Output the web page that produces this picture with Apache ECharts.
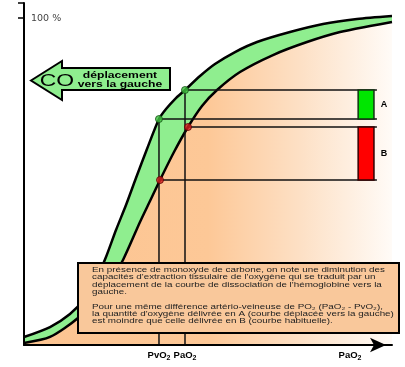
<!DOCTYPE html>
<html><head><meta charset="utf-8">
<script src="https://cdn.jsdelivr.net/npm/echarts@6/dist/echarts.min.js"></script>
<style>html,body{margin:0;padding:0;background:#fff}#c{width:405px;height:367px}</style>
</head><body><div id="c"></div>
<script>
// Curve shifted to the left by CO
const coX = [0, 7.07, 12.5, 16.58, 19.57, 22.28, 25.0, 27.72, 30.43, 33.42, 36.68, 38.59, 41.03, 43.75, 47.83, 51.9, 57.34, 63.32, 72.28, 81.25, 90.49, 100];
const coY = [2.45, 5.5, 9.48, 14.37, 19.88, 26.91, 35.17, 42.81, 51.07, 59.94, 69.11, 72.17, 75.23, 77.98, 82.26, 85.93, 89.6, 92.66, 95.72, 98.17, 99.69, 100.61];
// Usual curve
const normX = [0, 7.07, 14.67, 20.65, 23.91, 26.9, 31.52, 34.24, 36.96, 40.76, 44.57, 48.37, 52.45, 58.7, 67.66, 76.9, 85.87, 94.02, 100];
const normY = [0.61, 2.45, 8.26, 15.6, 20.49, 25.99, 37.61, 44.04, 50.46, 59.02, 66.67, 73.09, 77.98, 83.49, 88.69, 92.66, 95.72, 97.55, 98.78];
// Points at PvO2 / PaO2
const greenDots = [[36.68, 69.11], [43.75, 77.98]];
const redDots = [[36.96, 50.46], [44.57, 66.67]];
const lineEndX = 95.9;
// A / B differences
const diffLabels = ['A', 'B'];
const diffRanges = [[69.11, 77.98], [50.46, 66.67]];
// tick labels
const xTickValues = [36.7, 43.75, 88.6];
const xTickLabels = ['PvO{s|2}', 'PaO{s|2}', 'PaO{s|2}'];
const yTickValues = [100];
const yTickLabels = ['100 %'];

const zip = (xs, ys) => xs.map((x, i) => [x, ys[i]]);
const chart = echarts.init(document.getElementById('c'));

const segSeries = [];
greenDots.forEach(d => segSeries.push([[d[0], 0], [d[0], d[1]]]));
greenDots.concat(redDots).forEach(d => segSeries.push([[d[0], d[1]], [lineEndX, d[1]]]));

const option = {
  animation: false,
  grid: { left: 24, right: 13, top: 3, bottom: 22 },
  xAxis: {
    type: 'value', min: 0, max: 100, z: 10,
    axisLine: { lineStyle: { color: '#000', width: 2 }, symbol: ['none', 'arrow'], symbolSize: [11, 16], symbolOffset: [0, -6] },
    axisTick: { show: false },
    splitLine: { show: false },
    axisLabel: {
      customValues: xTickValues,
      margin: 4,
      formatter: v => xTickLabels[xTickValues.indexOf(v)] || '',
      color: '#000', fontFamily: 'Liberation Sans', fontWeight: 'bold', fontSize: 9.5,
      rich: { s: { fontFamily: 'Liberation Sans', fontWeight: 'bold', fontSize: 7, verticalAlign: 'bottom', padding: [6, 0, 0, 0] } }
    }
  },
  yAxis: {
    type: 'value', min: 0, max: 104.6, z: 10,
    axisLine: { show: true, lineStyle: { color: '#000', width: 2 } },
    axisTick: { show: true, customValues: [100, 104.6], length: 6, lineStyle: { color: '#000', width: 1.5 } },
    splitLine: { show: false },
    axisLabel: {
      customValues: yTickValues, inside: true, margin: 7,
      formatter: v => yTickLabels[yTickValues.indexOf(v)] || '',
      color: '#444', fontFamily: 'DejaVu Sans', fontSize: 9.5
    }
  },
  series: [
    {
      type: 'line', data: zip(coX, coY), symbol: 'none', smooth: 0.25, z: 1,
      lineStyle: { color: '#000', width: 2.5 },
      areaStyle: { color: '#8fee8f', opacity: 1 }
    },
    {
      type: 'line', data: zip(normX, normY), symbol: 'none', smooth: 0.25, z: 2,
      lineStyle: { color: '#000', width: 2.5 },
      areaStyle: { opacity: 1, color: new echarts.graphic.LinearGradient(0, 0, 1, 0, [
        { offset: 0, color: '#fcc491' }, { offset: 0.5, color: '#fdc897' },
        { offset: 0.75, color: '#fde0c5' }, { offset: 1, color: '#fffbf7' }]) }
    },
    ...segSeries.map(seg => ({
      type: 'line', data: seg, symbol: 'none', z: 3, silent: true,
      lineStyle: { color: '#111', width: 1.5 }
    })),
    {
      type: 'custom', z: 4,
      data: diffRanges.map((r, i) => [r[0], r[1], i]),
      renderItem: (params, api) => {
        const i = api.value(2);
        const p0 = api.coord([90.8, api.value(1)]);
        const p1 = api.coord([95.1, api.value(0)]);
        return { type: 'group', children: [
          { type: 'rect', shape: { x: p0[0], y: p0[1], width: p1[0] - p0[0], height: p1[1] - p0[1] },
            style: { fill: i === 0 ? '#00e600' : '#ff0000', stroke: i === 0 ? '#113311' : '#330000', lineWidth: 1.5 } },
          { type: 'text', x: p1[0] + 10, y: (p0[1] + p1[1]) / 2,
            style: { text: diffLabels[i], fontFamily: 'Liberation Sans', fontWeight: 'bold', fontSize: 9, fill: '#000', align: 'center', verticalAlign: 'middle' } }
        ] };
      }
    },
    {
      type: 'scatter', data: greenDots, symbolSize: 7, z: 5,
      itemStyle: { color: '#3fc43f', borderColor: '#134d13', borderWidth: 1 }
    },
    {
      type: 'scatter', data: redDots, symbolSize: 7, z: 5,
      itemStyle: { color: '#d61e1e', borderColor: '#5a0000', borderWidth: 1 }
    }
  ],
  graphic: [
    { type: 'rect', z: 100, shape: { x: 78, y: 263, width: 321, height: 70 },
      style: { fill: '#f9c89b', stroke: '#000', lineWidth: 2 } },
    { type: 'text', z: 101, x: 92, y: 266.5, scaleX: 1.37,
      style: { text: "En présence de monoxyde de carbone, on note une diminution des\ncapacités d'extraction tissulaire de l'oxygène qui se traduit par un\ndéplacement de la courbe de dissociation de l'hémoglobine vers la\ngauche.\n\nPour une même différence artério-veineuse de PO₂ (PaO₂ - PvO₂),\nla quantité d'oxygène délivrée en A (courbe déplacée vers la gauche)\nest moindre que celle délivrée en B (courbe habituelle).",
        fontFamily: 'Liberation Sans', fontSize: 7.2, lineHeight: 7.3, fill: '#222', align: 'left', verticalAlign: 'top' } },
    { type: 'polygon', z: 100,
      shape: { points: [[31, 80.5], [62, 61], [62, 68], [170, 68], [170, 90], [62, 90], [62, 100]] },
      style: { fill: '#8fee8f', stroke: '#000', lineWidth: 2 } },
    { type: 'text', z: 101, x: 57, y: 81.5, scaleX: 1.35,
      style: { text: 'CO', fontFamily: 'Liberation Sans', fontSize: 17, fill: '#000', align: 'center', verticalAlign: 'middle' } },
    { type: 'text', z: 101, x: 120, y: 80.5, scaleX: 1.35,
      style: { text: 'déplacement\nvers la gauche', fontFamily: 'Liberation Sans', fontWeight: 'bold', fontSize: 9, lineHeight: 9, fill: '#000', align: 'center', verticalAlign: 'middle' } }
  ]
};
chart.setOption(option);
</script></body></html>
